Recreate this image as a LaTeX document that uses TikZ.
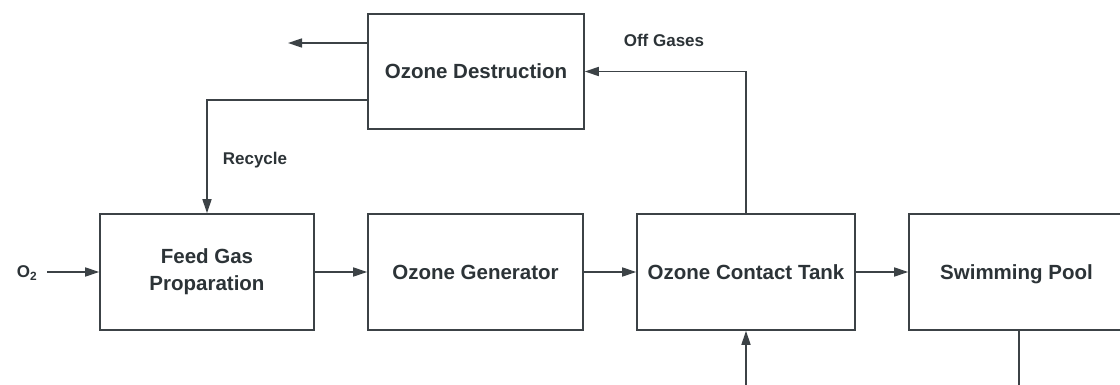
\documentclass[tikz,border=0pt]{standalone}
\usepackage{fontspec}
\setmainfont{Liberation Sans}
\usetikzlibrary{arrows.meta}
\definecolor{ink}{HTML}{2C3337}
\definecolor{ln}{HTML}{3C4246}
\tikzset{
  box/.style={draw=ln, line width=1.6pt, inner sep=0pt, minimum height=116pt, align=center,
    text=ink, font=\fontsize{20.5}{27}\selectfont\bfseries},
  lbl/.style={text=ink, font=\fontsize{17}{20}\selectfont\bfseries, inner sep=0pt},
  arr/.style={draw=ln, line width=1.6pt, -{Triangle[length=14pt,width=9pt]}},
  ln/.style={draw=ln, line width=1.6pt}
}
\begin{document}
\begin{tikzpicture}[x=1pt,y=-1pt]
\clip (0,0) rectangle (1120,385);
\fill[white] (0,0) rectangle (1120,385);
\node[box, minimum width=216pt, minimum height=115pt] (dest) at (476,71.5) {Ozone Destruction};
\node[box, minimum width=214pt] (feed) at (207,272) {Feed Gas\\Proparation};
\node[box, minimum width=215pt] (gen) at (475.5,272) {Ozone Generator};
\node[box, minimum width=218pt] (tank) at (746,272) {Ozone Contact Tank};
\node[box, minimum width=215pt, text depth=0pt] (pool) at (1016.5,272) {Swimming Pool};
\node[lbl] (o2) at (27,273) {O\textsubscript{2}};
\node[lbl] (rec) at (255,160) {Recycle};
\node[lbl] (off) at (664,40) {Off Gases};
\coordinate (exh) at (288,43);
\coordinate (rcy) at (300,100);
\coordinate (bin) at (746,392);
\coordinate (pout) at (1019,392);
\draw[arr] (dest.west |- exh) -- (exh);
\draw[arr] (dest.west |- rcy) -| (feed.north);
\draw[arr] (tank.north) |- (dest.east);
\draw[arr] (o2.east) ++(10,-1) -- (feed.west);
\draw[arr] (feed.east) -- (gen.west);
\draw[arr] (gen.east) -- (tank.west);
\draw[arr] (tank.east) -- (pool.west);
\draw[arr] (bin) -- (tank.south);
\draw[ln] (pool.south -| pout) -- (pout);
\end{tikzpicture}
\end{document}
